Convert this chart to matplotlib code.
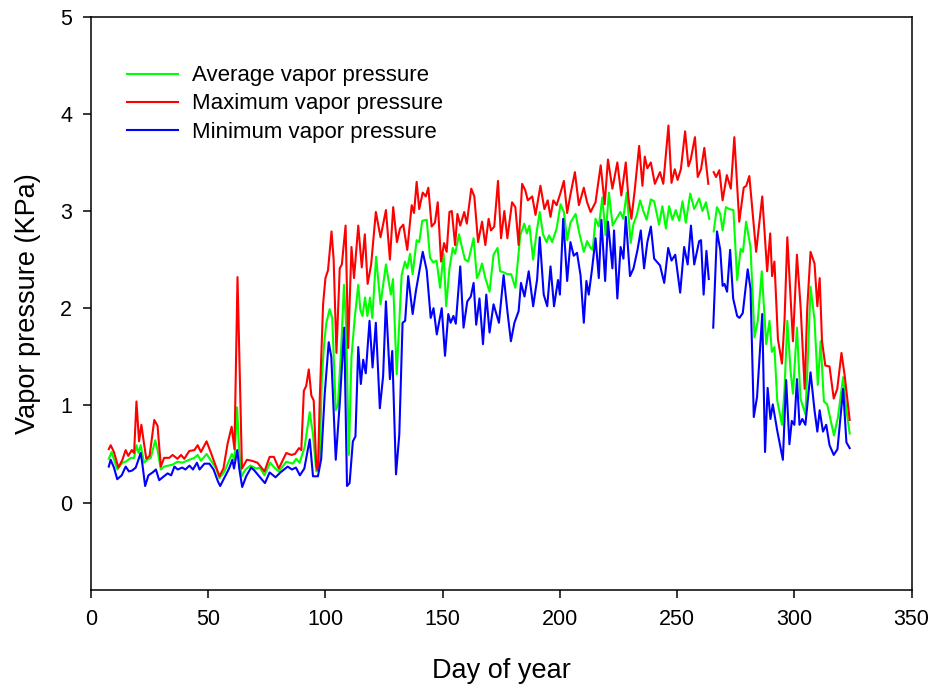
import numpy as np
import matplotlib.pyplot as plt

plt.rcParams['font.family'] = ['Liberation Sans', 'DejaVu Sans']

nan = np.nan

# Average vapor pressure (KPa) - at turning points
avg_days = [7.6, 8.8, 11.2, 13.4, 14.8, 17.0, 18.4, 19.4, 20.3, 21.2, 22.6, 24.0, 25.5, 27.4, 28.4,
            29.8, 31.2, 34.8, 36.9, 39.0, 41.9, 44.1, 45.5, 46.9, 49.3, 51.2, 53.4, 54.8, 56.9,
            58.7, 60.1, 61.2, 62.3, 63.2, 64.2, 65.9, 68.0, 70.4, 72.0, 74.0, 76.4, 78.2, 80.1,
            83.3, 86.1, 87.5, 89.0, 91.1, 93.3, 94.7, 96.1, 97.5, 98.5, 99.5, 100.4, 101.8, 102.9,
            104.4, 105.3, 106.8, 107.9, 108.8, 110.0, 111.1, 112.5, 114.0, 114.9, 115.8, 116.9,
            117.9, 119.0, 120.0, 121.6, 123.5, 125.8, 127.9, 128.8, 130.4, 132.5, 133.9, 134.9,
            136.1, 137.2, 138.9, 140.0, 141.3, 143.2, 144.6, 146.0, 147.4, 148.9, 150.4, 151.5,
            152.9, 154.3, 155.3, 157.0, 158.1, 159.5, 160.9, 163.2, 164.6, 165.3, 166.8, 168.2,
            170.0, 171.7, 173.4, 174.5, 176.0, 177.5, 179.2, 181.0, 183.1, 184.8, 185.9, 187.0,
            188.6, 190.0, 191.4, 192.8, 194.3, 195.4, 196.7, 198.6, 200.3, 201.7, 203.1, 204.5,
            206.7, 208.1, 210.2, 211.6, 213.1, 214.0, 215.2, 216.6, 218.1, 219.5, 220.9, 222.5,
            224.1, 225.8, 227.0, 228.5, 230.2, 231.4, 232.8, 234.2, 235.6, 237.0, 238.8, 240.2,
            242.3, 243.7, 245.2, 246.6, 248.0, 249.4, 250.9, 252.3, 253.7, 255.6, 257.3, 259.4,
            260.8, 262.3, 263.7, 264.5, 265.6, 267.0, 268.4, 269.4, 270.8, 272.3, 274.0, 275.6,
            277.1, 278.1, 279.4, 281.3, 283.0, 284.4, 286.1, 288.0, 289.4, 290.4, 291.5, 292.7,
            294.7, 295.8, 297.0, 298.4, 299.4, 301.1, 302.6, 304.7, 305.8, 306.9, 308.6, 310.0,
            311.2, 312.6, 314.0, 316.9, 318.6, 320.8, 322.2, 323.6]
avg_vals = [0.45, 0.52, 0.34, 0.41, 0.42, 0.46, 0.46, 0.59, 0.51, 0.59, 0.41, 0.44, 0.46, 0.64, 0.54,
            0.34, 0.37, 0.39, 0.42, 0.41, 0.44, 0.46, 0.49, 0.43, 0.50, 0.43, 0.35, 0.25, 0.32,
            0.42, 0.50, 0.44, 0.98, 0.55, 0.27, 0.34, 0.38, 0.35, 0.36, 0.28, 0.41, 0.36, 0.32,
            0.42, 0.40, 0.45, 0.41, 0.57, 0.93, 0.70, 0.32, 0.40, 1.30, 1.65, 1.85, 1.99, 1.90,
            0.95, 1.00, 1.63, 2.24, 1.83, 0.49, 1.50, 1.90, 2.24, 1.98, 1.92, 2.11,
            1.92, 2.11, 1.90, 2.53, 2.04, 2.45, 2.14, 2.30, 1.32, 2.34, 2.48, 2.41,
            2.56, 2.35, 2.70, 2.68, 2.90, 2.91, 2.52, 2.47, 2.49, 2.21, 2.56, 2.02,
            2.41, 2.62, 2.56, 2.76, 2.64, 2.50, 2.48, 2.72, 2.31, 2.34, 2.46, 2.31,
            2.17, 2.55, 2.62, 2.38, 2.37, 2.35, 2.35, 2.21, 2.75, 2.87, 2.77, 2.85,
            2.50, 2.77, 2.99, 2.76, 2.68, 2.75, 2.68, 2.82, 3.07, 2.99, 2.70, 2.88,
            2.97, 2.79, 2.58, 2.69, 2.62, 2.60, 2.92, 2.84, 3.14, 2.75, 3.19, 2.85,
            2.92, 2.99, 2.92, 3.19, 2.67, 2.87, 2.96, 3.11, 3.00, 2.91, 3.12, 3.10,
            2.86, 3.05, 2.82, 3.05, 2.91, 3.01, 2.90, 3.10, 2.88, 3.18, 3.02, 3.13,
            3.00, 3.09, 2.92, nan, 2.79, 3.04, 2.97, 2.80, 3.04, 3.02, 3.01, 2.29,
            2.61, 2.58, 2.89, 2.63, 1.70, 1.87, 2.38, 1.63, 1.87, 1.55, 1.60, 1.05,
            0.80, 1.16, 1.87, 1.35, 1.12, 1.80, 1.07, 0.91, 1.50, 2.22, 1.88, 1.21,
            1.66, 1.04, 1.01, 0.69, 0.88, 1.29, 0.95, 0.71]

# Maximum vapor pressure (KPa)
max_days = [7.6, 8.4, 9.8, 11.7, 13.4, 14.8, 15.9, 17.4, 18.4, 19.4, 20.5, 21.5, 22.6, 23.6, 25.0,
            27.0, 28.4, 29.8, 31.2, 33.4, 34.8, 36.9, 38.4, 39.8, 41.9, 44.1, 45.5, 46.9, 49.3,
            51.2, 52.7, 54.8, 56.5, 58.3, 60.0, 61.2, 62.5, 64.4, 66.5, 68.6, 71.0, 74.0, 76.2,
            78.0, 80.1, 83.3, 85.5, 87.0, 88.7, 89.7, 90.8, 91.8, 92.9, 94.0, 95.0, 96.1, 96.8,
            97.6, 99.0, 100.0, 101.1, 102.6, 103.5, 104.7, 106.1, 107.0, 108.6, 109.7, 111.1,
            112.2, 114.0, 115.5, 116.8, 118.0, 119.5, 121.5, 123.5, 125.8, 127.5, 128.9, 130.5,
            131.8, 133.2, 134.9, 136.8, 137.8, 138.9, 140.0, 141.5, 142.8, 143.9, 145.3, 146.7,
            147.9, 149.3, 150.6, 151.7, 152.9, 153.9, 155.3, 156.3, 157.5, 159.2, 160.3, 162.2,
            163.5, 165.1, 166.8, 168.2, 169.6, 170.6, 172.0, 173.6, 174.9, 176.3, 177.6, 179.6,
            181.0, 182.4, 183.9, 185.3, 186.3, 188.2, 189.6, 191.7, 193.4, 194.8, 196.0, 197.2,
            198.6, 200.3, 201.7, 203.1, 204.5, 206.4, 208.1, 210.2, 211.6, 213.1, 215.2, 217.4,
            219.1, 220.5, 222.4, 224.5, 226.2, 228.1, 229.2, 230.5, 231.9, 233.8, 235.2, 236.2,
            237.3, 238.8, 240.5, 242.7, 244.1, 246.3, 247.6, 249.0, 250.2, 251.6, 253.4, 254.8,
            255.8, 257.6, 258.8, 260.2, 261.6, 263.3, 264.5, 265.6, 266.6, 268.0, 269.4, 271.2,
            272.9, 274.4, 276.5, 278.4, 279.5, 280.8, 283.7, 286.3, 288.4, 289.7, 290.5, 291.5,
            293.0, 294.7, 295.8, 297.0, 298.5, 299.4, 301.1, 302.7, 304.4, 305.5, 306.9, 308.6,
            309.8, 310.8, 311.8, 313.2, 315.0, 316.8, 318.3, 320.1, 321.5, 323.6]
max_vals = [0.55, 0.59, 0.52, 0.36, 0.44, 0.54, 0.48, 0.54, 0.51, 1.04, 0.63, 0.80, 0.61, 0.45, 0.48,
            0.85, 0.79, 0.37, 0.46, 0.46, 0.49, 0.45, 0.49, 0.45, 0.53, 0.54, 0.59, 0.52, 0.63,
            0.51, 0.41, 0.27, 0.35, 0.61, 0.78, 0.55, 2.32, 0.35, 0.44, 0.43, 0.41, 0.32, 0.47,
            0.47, 0.35, 0.51, 0.49, 0.50, 0.56, 0.54, 1.15, 1.20, 1.37, 1.10, 1.05, 0.37, 0.33,
            1.08, 2.04, 2.31, 2.39, 2.79, 2.50, 1.54, 2.41, 2.45, 2.85, 1.59, 2.63,
            2.31, 2.85, 2.42, 2.76, 2.25, 2.45, 2.99, 2.73, 3.01, 2.50, 3.04, 2.68,
            2.82, 2.86, 2.60, 3.06, 2.98, 3.30, 3.02, 3.19, 3.15, 3.24, 2.84, 2.88,
            3.09, 2.48, 2.67, 2.58, 2.99, 3.00, 2.65, 2.97, 2.85, 2.99, 2.87, 3.23,
            3.15, 2.68, 2.89, 2.65, 2.92, 2.80, 2.84, 3.31, 2.72, 3.00, 2.72, 3.09,
            3.04, 2.65, 3.28, 3.21, 3.11, 3.15, 2.96, 3.26, 3.02, 3.11, 2.94, 3.11,
            3.06, 3.19, 3.31, 2.98, 3.17, 3.40, 3.06, 3.24, 3.09, 2.99, 3.09, 3.47,
            3.07, 3.53, 3.23, 3.50, 3.16, 3.50, 3.14, 2.92, 3.21, 3.67, 3.26, 3.56,
            3.44, 3.50, 3.28, 3.40, 3.28, 3.88, 3.29, 3.43, 3.32, 3.43, 3.82, 3.46,
            3.53, 3.76, 3.35, 3.43, 3.65, 3.28, nan, 3.40, 3.35, 3.42, 3.11, 3.37,
            3.23, 3.76, 2.89, 3.24, 3.26, 3.36, 2.58, 3.15, 2.38, 2.77, 2.33, 2.48,
            1.68, 1.43, 1.87, 2.73, 2.07, 1.66, 2.55, 2.00, 1.17, 2.00, 2.58, 2.46,
            2.02, 2.31, 1.66, 1.41, 1.40, 1.07, 1.17, 1.54, 1.30, 0.85]

# Minimum vapor pressure (KPa)
min_days = [7.6, 8.4, 9.8, 11.2, 13.1, 14.8, 16.2, 17.6, 19.1, 21.2, 21.9, 23.1, 24.5, 26.3, 27.7,
            29.1, 30.6, 32.7, 34.2, 35.6, 37.0, 38.9, 40.3, 42.0, 43.5, 45.2, 46.3, 48.4, 50.5,
            52.3, 54.1, 55.1, 57.0, 58.9, 60.3, 61.0, 62.4, 63.3, 64.5, 66.2, 68.3, 69.7, 71.4,
            74.2, 76.2, 78.7, 80.8, 83.9, 85.7, 87.4, 89.1, 91.0, 93.3, 94.7, 96.8, 98.2, 99.7,
            101.4, 102.5, 104.4, 106.1, 108.0, 109.2, 110.3, 111.7, 112.8, 114.0, 115.1, 116.1,
            117.2, 118.8, 120.1, 121.5, 123.2, 124.6, 125.8, 127.5, 128.5, 130.1, 131.5, 132.9,
            134.0, 135.3, 137.2, 138.6, 140.1, 141.5, 143.2, 144.9, 146.1, 147.5, 149.6, 151.0,
            152.4, 153.4, 154.6, 155.6, 157.5, 158.9, 160.5, 162.0, 163.2, 164.3, 165.7, 167.2,
            168.6, 170.0, 171.7, 174.0, 176.0, 177.6, 179.1, 180.6, 182.4, 183.4, 184.9, 186.7,
            188.6, 190.3, 191.4, 193.1, 194.6, 196.0, 197.5, 199.2, 200.0, 201.4, 203.1, 204.5,
            205.9, 207.3, 208.8, 210.2, 211.3, 212.3, 213.7, 215.2, 216.6, 217.7, 219.3, 220.5,
            222.4, 223.1, 224.5, 225.9, 227.1, 228.1, 229.9, 231.4, 233.1, 234.5, 235.9, 237.3,
            238.8, 240.2, 242.7, 244.5, 246.2, 247.6, 249.2, 251.3, 253.0, 254.5, 255.9, 257.3,
            259.4, 260.2, 261.3, 262.5, 263.5, 264.5, 265.4, 267.0, 268.4, 269.4, 270.2, 271.3,
            272.6, 273.9, 275.6, 276.6, 278.0, 280.1, 281.3, 282.7, 284.1, 286.3, 287.5, 288.6,
            289.8, 290.8, 292.7, 295.1, 296.5, 297.9, 298.9, 300.0, 301.1, 302.2, 303.4, 304.7,
            306.9, 308.6, 309.8, 310.8, 312.2, 313.6, 315.0, 316.8, 318.4, 320.8, 322.2, 323.6]
min_vals = [0.37, 0.44, 0.36, 0.24, 0.28, 0.37, 0.32, 0.33, 0.36, 0.51, 0.40, 0.17, 0.28, 0.31, 0.34,
            0.23, 0.26, 0.30, 0.28, 0.37, 0.34, 0.36, 0.34, 0.38, 0.34, 0.41, 0.34, 0.40, 0.40,
            0.34, 0.22, 0.17, 0.26, 0.35, 0.44, 0.35, 0.54, 0.34, 0.16, 0.27, 0.36, 0.33, 0.28,
            0.20, 0.31, 0.26, 0.31, 0.37, 0.34, 0.36, 0.28, 0.35, 0.65, 0.27, 0.27, 0.45, 1.12,
            1.65, 1.50, 0.44, 1.02, 1.80, 0.17, 0.20, 0.63, 0.68, 1.60, 1.22, 1.47,
            1.33, 1.87, 1.39, 1.85, 0.97, 1.30, 2.07, 1.27, 1.56, 0.29, 0.70, 1.85,
            1.87, 2.33, 1.94, 2.18, 2.39, 2.58, 2.39, 1.90, 2.00, 1.73, 2.00, 1.51,
            1.94, 1.85, 1.92, 1.84, 2.43, 1.80, 2.07, 2.12, 2.26, 1.83, 2.10, 1.63,
            2.14, 1.75, 2.04, 1.85, 2.34, 1.97, 1.66, 1.85, 1.97, 2.26, 2.12, 2.38,
            2.02, 2.30, 2.73, 2.14, 2.02, 2.43, 2.02, 2.29, 2.14, 2.92, 2.28, 2.68,
            2.54, 2.57, 2.34, 1.85, 2.28, 2.14, 2.40, 2.72, 2.31, 2.91, 2.28, 2.89,
            2.41, 2.80, 2.10, 2.63, 2.51, 2.94, 2.33, 2.41, 2.60, 2.80, 2.41, 2.68,
            2.84, 2.51, 2.44, 2.26, 2.62, 2.49, 2.55, 2.16, 2.63, 2.45, 2.85, 2.45,
            2.69, 2.70, 2.14, 2.59, 2.30, nan, 1.80, 2.79, 2.60, 2.23, 2.25, 2.17,
            2.60, 2.10, 1.92, 1.90, 1.95, 2.40, 2.20, 0.88, 1.09, 1.94, 0.52, 1.18,
            0.86, 1.01, 0.74, 0.44, 1.26, 0.60, 0.84, 0.80, 1.27, 0.80, 0.86, 0.80,
            1.34, 0.95, 0.73, 0.95, 0.73, 0.80, 0.59, 0.49, 0.55, 1.17, 0.62, 0.56]

labels = ['Average vapor pressure', 'Maximum vapor pressure', 'Minimum vapor pressure']
colors = ['#00ff00', '#ff0000', '#0000ff']

fig = plt.figure(figsize=(9.34, 6.92), dpi=100)
ax = fig.add_axes([0.0974, 0.1474, 0.8786, 0.8285])

ax.plot(avg_days, avg_vals, color=colors[0], lw=1.5, label=labels[0])
ax.plot(max_days, max_vals, color=colors[1], lw=1.5, label=labels[1])
ax.plot(min_days, min_vals, color=colors[2], lw=1.5, label=labels[2])

ax.set_xlim(0, 350)
ax.set_ylim(-0.9, 5)
ax.set_xticks([0, 50, 100, 150, 200, 250, 300, 350])
ax.set_yticks([0, 1, 2, 3, 4, 5])
ax.tick_params(direction='out', length=5.5, width=1.1, labelsize=15.5, pad=8)
for s in ax.spines.values():
    s.set_linewidth(1.1)

ax.set_xlabel('Day of year', fontsize=19.5, labelpad=20)
ax.set_ylabel('Vapor pressure (KPa)', fontsize=19.5, labelpad=14)

ax.legend(loc='upper left', bbox_to_anchor=(0.02, 0.95), frameon=False, fontsize=16,
          handlelength=2.3, handletextpad=0.6, labelspacing=0.32)

fig.savefig('out.png', dpi=100)
